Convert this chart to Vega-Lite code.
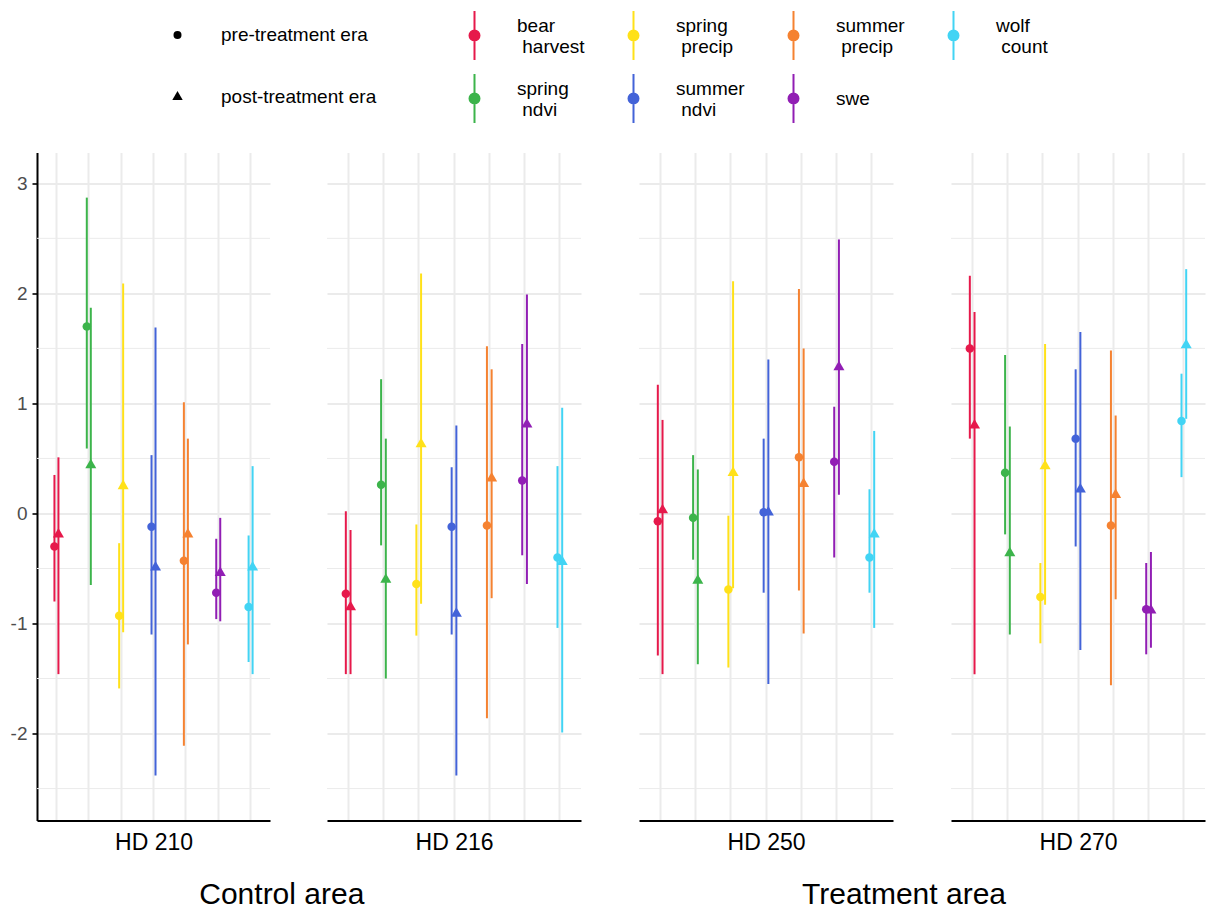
{
  "$schema": "https://vega.github.io/schema/vega-lite/v6.json",
  "padding": {"left": 10, "top": 9.5, "right": 0, "bottom": 0},
  "spacing": 56,
  "config": {
    "font": "Liberation Sans",
    "view": {"stroke": null},
    "legend": {"padding": 0}
  },
  "resolve": {"scale": {"xOffset": "independent"}},
  "datasets": {
    "minor": [{"v": -2.5}, {"v": -1.5}, {"v": -0.5}, {"v": 0.5}, {"v": 1.5}, {"v": 2.5}],
    "est": [
      {"hd": "HD 210", "cov": "bear harvest", "era": "pre-treatment era", "est": -0.30, "lo": -0.80, "hi": 0.35},
      {"hd": "HD 210", "cov": "bear harvest", "era": "post-treatment era", "est": -0.19, "lo": -1.46, "hi": 0.51},
      {"hd": "HD 210", "cov": "spring ndvi", "era": "pre-treatment era", "est": 1.70, "lo": 0.59, "hi": 2.87},
      {"hd": "HD 210", "cov": "spring ndvi", "era": "post-treatment era", "est": 0.44, "lo": -0.65, "hi": 1.87},
      {"hd": "HD 210", "cov": "spring precip", "era": "pre-treatment era", "est": -0.93, "lo": -1.59, "hi": -0.27},
      {"hd": "HD 210", "cov": "spring precip", "era": "post-treatment era", "est": 0.25, "lo": -1.08, "hi": 2.09},
      {"hd": "HD 210", "cov": "summer ndvi", "era": "pre-treatment era", "est": -0.12, "lo": -1.10, "hi": 0.53},
      {"hd": "HD 210", "cov": "summer ndvi", "era": "post-treatment era", "est": -0.49, "lo": -2.38, "hi": 1.69},
      {"hd": "HD 210", "cov": "summer precip", "era": "pre-treatment era", "est": -0.43, "lo": -2.11, "hi": 1.01},
      {"hd": "HD 210", "cov": "summer precip", "era": "post-treatment era", "est": -0.19, "lo": -1.19, "hi": 0.68},
      {"hd": "HD 210", "cov": "swe", "era": "pre-treatment era", "est": -0.72, "lo": -0.96, "hi": -0.23},
      {"hd": "HD 210", "cov": "swe", "era": "post-treatment era", "est": -0.54, "lo": -0.98, "hi": -0.04},
      {"hd": "HD 210", "cov": "wolf count", "era": "pre-treatment era", "est": -0.85, "lo": -1.35, "hi": -0.20},
      {"hd": "HD 210", "cov": "wolf count", "era": "post-treatment era", "est": -0.49, "lo": -1.46, "hi": 0.43},
      {"hd": "HD 216", "cov": "bear harvest", "era": "pre-treatment era", "est": -0.73, "lo": -1.46, "hi": 0.02},
      {"hd": "HD 216", "cov": "bear harvest", "era": "post-treatment era", "est": -0.85, "lo": -1.46, "hi": -0.15},
      {"hd": "HD 216", "cov": "spring ndvi", "era": "pre-treatment era", "est": 0.26, "lo": -0.29, "hi": 1.22},
      {"hd": "HD 216", "cov": "spring ndvi", "era": "post-treatment era", "est": -0.60, "lo": -1.50, "hi": 0.68},
      {"hd": "HD 216", "cov": "spring precip", "era": "pre-treatment era", "est": -0.64, "lo": -1.11, "hi": -0.10},
      {"hd": "HD 216", "cov": "spring precip", "era": "post-treatment era", "est": 0.63, "lo": -0.82, "hi": 2.18},
      {"hd": "HD 216", "cov": "summer ndvi", "era": "pre-treatment era", "est": -0.12, "lo": -1.10, "hi": 0.42},
      {"hd": "HD 216", "cov": "summer ndvi", "era": "post-treatment era", "est": -0.91, "lo": -2.38, "hi": 0.80},
      {"hd": "HD 216", "cov": "summer precip", "era": "pre-treatment era", "est": -0.11, "lo": -1.86, "hi": 1.52},
      {"hd": "HD 216", "cov": "summer precip", "era": "post-treatment era", "est": 0.32, "lo": -0.77, "hi": 1.31},
      {"hd": "HD 216", "cov": "swe", "era": "pre-treatment era", "est": 0.30, "lo": -0.38, "hi": 1.54},
      {"hd": "HD 216", "cov": "swe", "era": "post-treatment era", "est": 0.81, "lo": -0.64, "hi": 1.99},
      {"hd": "HD 216", "cov": "wolf count", "era": "pre-treatment era", "est": -0.40, "lo": -1.04, "hi": 0.43},
      {"hd": "HD 216", "cov": "wolf count", "era": "post-treatment era", "est": -0.44, "lo": -1.99, "hi": 0.96},
      {"hd": "HD 250", "cov": "bear harvest", "era": "pre-treatment era", "est": -0.07, "lo": -1.29, "hi": 1.17},
      {"hd": "HD 250", "cov": "bear harvest", "era": "post-treatment era", "est": 0.03, "lo": -1.46, "hi": 0.85},
      {"hd": "HD 250", "cov": "spring ndvi", "era": "pre-treatment era", "est": -0.04, "lo": -0.42, "hi": 0.53},
      {"hd": "HD 250", "cov": "spring ndvi", "era": "post-treatment era", "est": -0.61, "lo": -1.37, "hi": 0.40},
      {"hd": "HD 250", "cov": "spring precip", "era": "pre-treatment era", "est": -0.69, "lo": -1.40, "hi": -0.02},
      {"hd": "HD 250", "cov": "spring precip", "era": "post-treatment era", "est": 0.37, "lo": -0.68, "hi": 2.11},
      {"hd": "HD 250", "cov": "summer ndvi", "era": "pre-treatment era", "est": 0.01, "lo": -0.72, "hi": 0.68},
      {"hd": "HD 250", "cov": "summer ndvi", "era": "post-treatment era", "est": 0.01, "lo": -1.55, "hi": 1.40},
      {"hd": "HD 250", "cov": "summer precip", "era": "pre-treatment era", "est": 0.51, "lo": -0.70, "hi": 2.04},
      {"hd": "HD 250", "cov": "summer precip", "era": "post-treatment era", "est": 0.27, "lo": -1.09, "hi": 1.50},
      {"hd": "HD 250", "cov": "swe", "era": "pre-treatment era", "est": 0.47, "lo": -0.40, "hi": 0.97},
      {"hd": "HD 250", "cov": "swe", "era": "post-treatment era", "est": 1.33, "lo": 0.17, "hi": 2.49},
      {"hd": "HD 250", "cov": "wolf count", "era": "pre-treatment era", "est": -0.40, "lo": -0.72, "hi": 0.22},
      {"hd": "HD 250", "cov": "wolf count", "era": "post-treatment era", "est": -0.19, "lo": -1.04, "hi": 0.75},
      {"hd": "HD 270", "cov": "bear harvest", "era": "pre-treatment era", "est": 1.50, "lo": 0.68, "hi": 2.16},
      {"hd": "HD 270", "cov": "bear harvest", "era": "post-treatment era", "est": 0.80, "lo": -1.46, "hi": 1.83},
      {"hd": "HD 270", "cov": "spring ndvi", "era": "pre-treatment era", "est": 0.37, "lo": -0.19, "hi": 1.44},
      {"hd": "HD 270", "cov": "spring ndvi", "era": "post-treatment era", "est": -0.36, "lo": -1.10, "hi": 0.79},
      {"hd": "HD 270", "cov": "spring precip", "era": "pre-treatment era", "est": -0.76, "lo": -1.18, "hi": -0.45},
      {"hd": "HD 270", "cov": "spring precip", "era": "post-treatment era", "est": 0.43, "lo": -0.83, "hi": 1.54},
      {"hd": "HD 270", "cov": "summer ndvi", "era": "pre-treatment era", "est": 0.68, "lo": -0.30, "hi": 1.31},
      {"hd": "HD 270", "cov": "summer ndvi", "era": "post-treatment era", "est": 0.22, "lo": -1.24, "hi": 1.65},
      {"hd": "HD 270", "cov": "summer precip", "era": "pre-treatment era", "est": -0.11, "lo": -1.56, "hi": 1.48},
      {"hd": "HD 270", "cov": "summer precip", "era": "post-treatment era", "est": 0.17, "lo": -0.78, "hi": 0.89},
      {"hd": "HD 270", "cov": "swe", "era": "pre-treatment era", "est": -0.87, "lo": -1.28, "hi": -0.45},
      {"hd": "HD 270", "cov": "swe", "era": "post-treatment era", "est": -0.88, "lo": -1.22, "hi": -0.35},
      {"hd": "HD 270", "cov": "wolf count", "era": "pre-treatment era", "est": 0.84, "lo": 0.33, "hi": 1.27},
      {"hd": "HD 270", "cov": "wolf count", "era": "post-treatment era", "est": 1.53, "lo": 0.86, "hi": 2.22}
    ]
  },
  "hconcat": [
    {
      "title": {"text": "Control area", "orient": "bottom", "fontSize": 30, "fontWeight": "normal", "color": "black", "anchor": "middle", "offset": 25, "dx": -14},
      "spacing": 55,
      "resolve": {"scale": {"xOffset": "independent"}},
      "hconcat": [
        {
          "width": 233, "height": 668,
          "layer": [
            {"data": {"name": "minor"}, "mark": {"type": "rule", "color": "#ebebeb", "strokeWidth": 1},
             "encoding": {"y": {"field": "v", "type": "quantitative", "title": null, "scale": {"domain": [-2.79, 3.28], "nice": false, "zero": false}}}},
            {"data": {"name": "est"}, "transform": [{"filter": "datum.hd == 'HD 210'"}],
             "mark": {"type": "rule", "strokeWidth": 2},
             "encoding": {
               "x": {"field": "cov", "type": "nominal", "scale": {"type": "band", "paddingInner": 0, "paddingOuter": 0.1, "domain": ["bear harvest", "spring ndvi", "spring precip", "summer ndvi", "summer precip", "swe", "wolf count"]},
                     "axis": {"bandPosition": 0.5, "labels": false, "ticks": false, "domain": true, "domainColor": "black", "domainWidth": 2, "grid": true, "gridColor": "#ebebeb", "gridWidth": 2, "title": "HD 210", "titleFontSize": 23, "titleFontWeight": "normal", "titleColor": "black", "titlePadding": 11}},
               "xOffset": {"field": "era", "type": "nominal", "scale": {"type": "band", "paddingInner": 1, "paddingOuter": 0, "range": [14.2, 18.2], "domain": ["pre-treatment era", "post-treatment era"]}},
               "y": {"field": "lo", "type": "quantitative", "title": null, "scale": {"domain": [-2.79, 3.28], "nice": false, "zero": false},
                     "axis": {"values": [-2, -1, 0, 1, 2, 3], "labelExpr": "toString(datum.value)", "grid": true, "gridColor": "#ebebeb", "gridWidth": 2, "domain": true, "domainColor": "black", "domainWidth": 2, "ticks": true, "tickColor": "#333333", "tickSize": 5, "tickWidth": 2, "labelFontSize": 19, "labelColor": "#4d4d4d", "labelPadding": 5}},
               "y2": {"field": "hi"},
               "color": {"field": "cov", "type": "nominal", "scale": {"domain": ["bear harvest", "spring ndvi", "spring precip", "summer ndvi", "summer precip", "swe", "wolf count"], "range": ["#e6194b", "#3cb44b", "#ffe119", "#4363d8", "#f58231", "#911eb4", "#42d4f4"]},
                         "legend": {"orient": "none", "legendX": 412, "legendY": -142.5, "columns": 4, "title": null, "symbolType": "M0,-1L0,1M-0.204,0A0.204,0.204,0,1,0,0.204,0A0.204,0.204,0,1,0,-0.204,0Z", "symbolSize": 2401, "symbolStrokeWidth": 2, "labelFontSize": 19, "labelColor": "black", "labelOffset": 17, "columnPadding": 23, "rowPadding": 6, "gridAlign": "each", "labelLimit": 300, "labelExpr": "split(replace(datum.label, ' ', ' \u200b\u00a0'), ' ')",
                                    "encode": {"symbols": {"update": {"stroke": {"scale": "color", "field": "value"}, "fill": {"scale": "color", "field": "value"}, "opacity": {"value": 1}}}, "labels": {"update": {"lineHeight": {"value": 21.5}, "dy": {"signal": "datum.value == 'swe' ? 0 : -10"}}}}}}
             }},
            {"data": {"name": "est"}, "transform": [{"filter": "datum.hd == 'HD 210'"}],
             "mark": {"type": "point", "filled": true, "opacity": 1, "size": 72},
             "encoding": {
               "x": {"field": "cov", "type": "nominal"},
               "xOffset": {"field": "era", "type": "nominal"},
               "y": {"field": "est", "type": "quantitative", "title": null},
               "color": {"field": "cov", "type": "nominal"},
               "shape": {"field": "era", "type": "nominal", "scale": {"domain": ["pre-treatment era", "post-treatment era"], "range": ["circle", "M0,-1.5L1.3,0.75L-1.3,0.75Z"]},
                         "legend": {"orient": "none", "legendX": 131, "legendY": -127, "title": null, "symbolSize": 64, "labelFontSize": 19, "labelColor": "black", "labelOffset": 34, "rowPadding": 42, "labelLimit": 300,
                                    "encode": {"symbols": {"update": {"fill": {"value": "black"}, "stroke": {"value": "black"}, "strokeWidth": {"value": 0}, "opacity": {"value": 1}}}}}}
             }}
          ]
        },
        {
          "width": 254, "height": 668,
          "layer": [
            {"data": {"name": "minor"}, "mark": {"type": "rule", "color": "#ebebeb", "strokeWidth": 1},
             "encoding": {"y": {"field": "v", "type": "quantitative", "title": null, "scale": {"domain": [-2.79, 3.28], "nice": false, "zero": false}}}},
            {"data": {"name": "est"}, "transform": [{"filter": "datum.hd == 'HD 216'"}],
             "mark": {"type": "rule", "strokeWidth": 2},
             "encoding": {
               "x": {"field": "cov", "type": "nominal", "scale": {"type": "band", "paddingInner": 0, "paddingOuter": 0.1, "domain": ["bear harvest", "spring ndvi", "spring precip", "summer ndvi", "summer precip", "swe", "wolf count"]},
                     "axis": {"bandPosition": 0.5, "labels": false, "ticks": false, "domain": true, "domainColor": "black", "domainWidth": 2, "grid": true, "gridColor": "#ebebeb", "gridWidth": 2, "title": "HD 216", "titleFontSize": 23, "titleFontWeight": "normal", "titleColor": "black", "titlePadding": 11}},
               "xOffset": {"field": "era", "type": "nominal", "scale": {"type": "band", "paddingInner": 1, "paddingOuter": 0, "range": [15.3, 20.0], "domain": ["pre-treatment era", "post-treatment era"]}},
               "y": {"field": "lo", "type": "quantitative", "title": null, "scale": {"domain": [-2.79, 3.28], "nice": false, "zero": false},
                     "axis": {"values": [-2, -1, 0, 1, 2, 3], "labels": false, "ticks": false, "domain": false, "grid": true, "gridColor": "#ebebeb", "gridWidth": 2}},
               "y2": {"field": "hi"},
               "color": {"field": "cov", "type": "nominal"}
             }},
            {"data": {"name": "est"}, "transform": [{"filter": "datum.hd == 'HD 216'"}],
             "mark": {"type": "point", "filled": true, "opacity": 1, "size": 72},
             "encoding": {
               "x": {"field": "cov", "type": "nominal"},
               "xOffset": {"field": "era", "type": "nominal"},
               "y": {"field": "est", "type": "quantitative", "title": null},
               "color": {"field": "cov", "type": "nominal"},
               "shape": {"field": "era", "type": "nominal"}
             }}
          ]
        }
      ]
    },
    {
      "title": {"text": "Treatment area", "orient": "bottom", "fontSize": 30, "fontWeight": "normal", "color": "black", "anchor": "middle", "offset": 25, "dx": -18},
      "spacing": 56,
      "resolve": {"scale": {"xOffset": "independent"}},
      "hconcat": [
        {
          "width": 254, "height": 668,
          "layer": [
            {"data": {"name": "minor"}, "mark": {"type": "rule", "color": "#ebebeb", "strokeWidth": 1},
             "encoding": {"y": {"field": "v", "type": "quantitative", "title": null, "scale": {"domain": [-2.79, 3.28], "nice": false, "zero": false}}}},
            {"data": {"name": "est"}, "transform": [{"filter": "datum.hd == 'HD 250'"}],
             "mark": {"type": "rule", "strokeWidth": 2},
             "encoding": {
               "x": {"field": "cov", "type": "nominal", "scale": {"type": "band", "paddingInner": 0, "paddingOuter": 0.1, "domain": ["bear harvest", "spring ndvi", "spring precip", "summer ndvi", "summer precip", "swe", "wolf count"]},
                     "axis": {"bandPosition": 0.5, "labels": false, "ticks": false, "domain": true, "domainColor": "black", "domainWidth": 2, "grid": true, "gridColor": "#ebebeb", "gridWidth": 2, "title": "HD 250", "titleFontSize": 23, "titleFontWeight": "normal", "titleColor": "black", "titlePadding": 11}},
               "xOffset": {"field": "era", "type": "nominal", "scale": {"type": "band", "paddingInner": 1, "paddingOuter": 0, "range": [15.3, 20.0], "domain": ["pre-treatment era", "post-treatment era"]}},
               "y": {"field": "lo", "type": "quantitative", "title": null, "scale": {"domain": [-2.79, 3.28], "nice": false, "zero": false},
                     "axis": {"values": [-2, -1, 0, 1, 2, 3], "labels": false, "ticks": false, "domain": false, "grid": true, "gridColor": "#ebebeb", "gridWidth": 2}},
               "y2": {"field": "hi"},
               "color": {"field": "cov", "type": "nominal"}
             }},
            {"data": {"name": "est"}, "transform": [{"filter": "datum.hd == 'HD 250'"}],
             "mark": {"type": "point", "filled": true, "opacity": 1, "size": 72},
             "encoding": {
               "x": {"field": "cov", "type": "nominal"},
               "xOffset": {"field": "era", "type": "nominal"},
               "y": {"field": "est", "type": "quantitative", "title": null},
               "color": {"field": "cov", "type": "nominal"},
               "shape": {"field": "era", "type": "nominal"}
             }}
          ]
        },
        {
          "width": 254, "height": 668,
          "layer": [
            {"data": {"name": "minor"}, "mark": {"type": "rule", "color": "#ebebeb", "strokeWidth": 1},
             "encoding": {"y": {"field": "v", "type": "quantitative", "title": null, "scale": {"domain": [-2.79, 3.28], "nice": false, "zero": false}}}},
            {"data": {"name": "est"}, "transform": [{"filter": "datum.hd == 'HD 270'"}],
             "mark": {"type": "rule", "strokeWidth": 2},
             "encoding": {
               "x": {"field": "cov", "type": "nominal", "scale": {"type": "band", "paddingInner": 0, "paddingOuter": 0.1, "domain": ["bear harvest", "spring ndvi", "spring precip", "summer ndvi", "summer precip", "swe", "wolf count"]},
                     "axis": {"bandPosition": 0.5, "labels": false, "ticks": false, "domain": true, "domainColor": "black", "domainWidth": 2, "grid": true, "gridColor": "#ebebeb", "gridWidth": 2, "title": "HD 270", "titleFontSize": 23, "titleFontWeight": "normal", "titleColor": "black", "titlePadding": 11}},
               "xOffset": {"field": "era", "type": "nominal", "scale": {"type": "band", "paddingInner": 1, "paddingOuter": 0, "range": [15.3, 20.0], "domain": ["pre-treatment era", "post-treatment era"]}},
               "y": {"field": "lo", "type": "quantitative", "title": null, "scale": {"domain": [-2.79, 3.28], "nice": false, "zero": false},
                     "axis": {"values": [-2, -1, 0, 1, 2, 3], "labels": false, "ticks": false, "domain": false, "grid": true, "gridColor": "#ebebeb", "gridWidth": 2}},
               "y2": {"field": "hi"},
               "color": {"field": "cov", "type": "nominal"}
             }},
            {"data": {"name": "est"}, "transform": [{"filter": "datum.hd == 'HD 270'"}],
             "mark": {"type": "point", "filled": true, "opacity": 1, "size": 72},
             "encoding": {
               "x": {"field": "cov", "type": "nominal"},
               "xOffset": {"field": "era", "type": "nominal"},
               "y": {"field": "est", "type": "quantitative", "title": null},
               "color": {"field": "cov", "type": "nominal"},
               "shape": {"field": "era", "type": "nominal"}
             }}
          ]
        }
      ]
    }
  ]
}
